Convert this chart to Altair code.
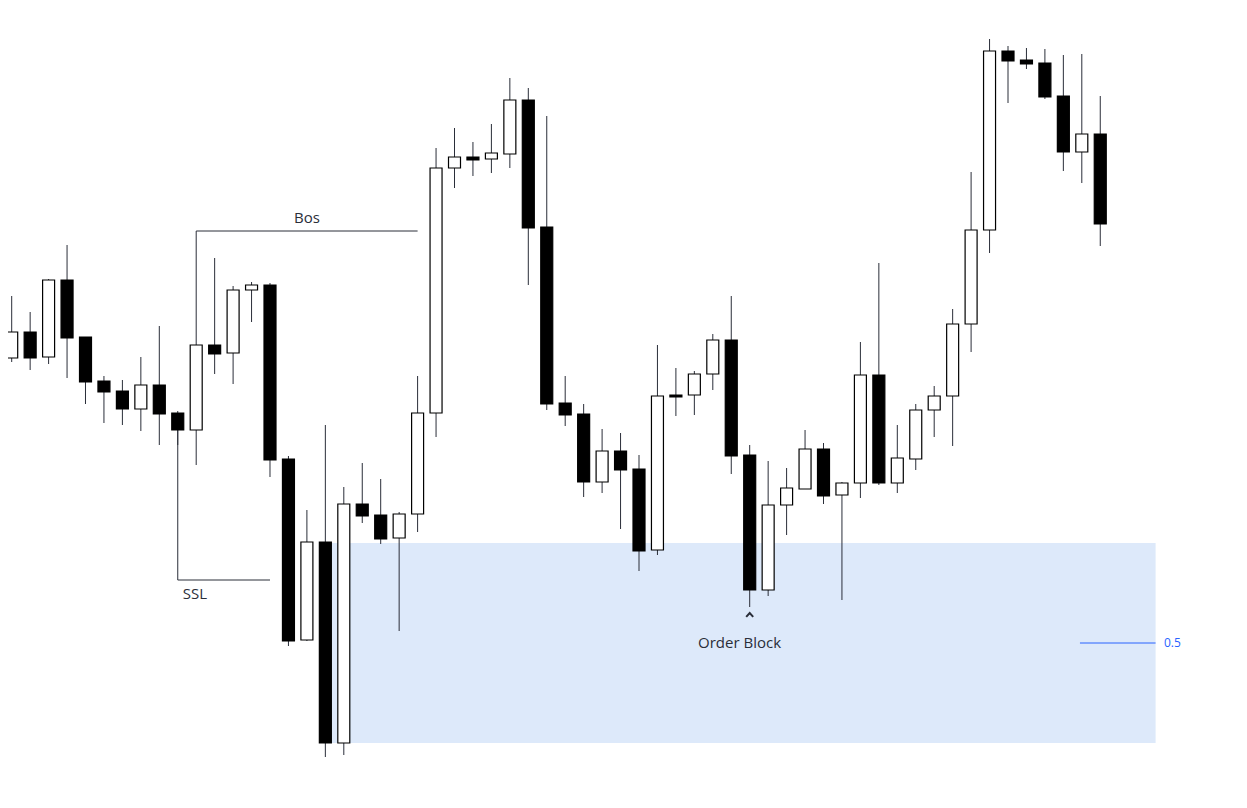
import altair as alt
import pandas as pd

# Candle OHLC (arbitrary price units)
opens  = [442,468,443,520,463,419,409,391,415,387,370,455,447,510,515,341,160,258,57,296,
          285,262,286,387,632,643,641,646,700,573,397,386,318,349,331,250,405,405,426,460,
          345,210,295,311,351,305,317,425,317,341,390,404,476,570,749,740,737,704,648,666]
highs  = [504,488,521,555,463,424,420,443,474,389,455,542,514,518,517,344,290,375,313,337,
          321,288,424,652,672,658,676,722,712,684,424,396,371,367,345,455,432,429,466,504,
          355,339,332,370,357,318,458,537,375,396,414,491,628,761,754,752,751,745,746,704]
lows   = [438,430,436,422,396,377,375,369,355,355,335,426,416,478,323,154,159,43,45,277,
          256,169,268,363,612,624,627,632,515,390,374,303,307,271,229,245,384,385,410,326,
          193,204,265,311,296,200,302,315,307,330,363,354,448,547,697,731,701,629,617,554]
closes = [468,442,520,462,418,408,391,415,386,370,455,446,510,515,340,159,258,57,296,284,
          261,286,387,632,643,640,647,700,572,396,385,318,349,330,249,404,403,426,460,344,
          210,295,312,351,304,317,425,317,342,390,404,476,570,749,739,736,703,648,666,576]

# Annotation geometry (candle index, price)
bos_x = [10, 10, 22]
bos_y = [455, 569, 569]
ssl_x = [9, 9, 14]
ssl_y = [370, 220, 220]
zone_x = [17, 62]
zone_y = [257, 57]
mid_x = [57.9, 62]
mid_y = 157

labels = ["Bos", "SSL", "Order Block"]
label_x = [16, 9.27, 39.45]
label_y = [582, 206, 157.5]
caret_x = 40
caret_y = 185

n = len(opens)
df = pd.DataFrame({
    "i": list(range(n)), "open": opens, "high": highs, "low": lows, "close": closes,
})
df["dir"] = ["up" if c > o else "down" for o, c in zip(opens, closes)]
df["x1"] = df["i"] - 0.325
df["x2"] = df["i"] + 0.325

xs = alt.Scale(domain=[-0.2005, 64.84], nice=False, zero=False)
ys = alt.Scale(domain=[12, 792], nice=False, zero=False)

zone_df = pd.DataFrame({"x": [zone_x[0]], "x2": [zone_x[1]], "y": [zone_y[0]], "y2": [zone_y[1]]})
zone = alt.Chart(zone_df).mark_rect(color="#dde9fa").encode(
    x=alt.X("x:Q", scale=xs, axis=None), x2="x2:Q",
    y=alt.Y("y:Q", scale=ys, axis=None), y2="y2:Q")

paths = pd.DataFrame({
    "x": bos_x + ssl_x, "y": bos_y + ssl_y,
    "path": ["bos"] * 3 + ["ssl"] * 3, "seq": [0, 1, 2, 0, 1, 2],
})
lines = alt.Chart(paths).mark_line(color="#2a2e39", strokeWidth=1).encode(
    x=alt.X("x:Q", scale=xs, axis=None), y=alt.Y("y:Q", scale=ys, axis=None),
    detail="path:N", order="seq:Q")

wicks = alt.Chart(df).mark_rule(color="#2a2e39", strokeWidth=1).encode(
    x=alt.X("i:Q", scale=xs, axis=None),
    y=alt.Y("low:Q", scale=ys, axis=None), y2="high:Q")

bodies = alt.Chart(df).mark_rect(stroke="#000000", strokeWidth=1.2).encode(
    x=alt.X("x1:Q", scale=xs, axis=None), x2="x2:Q",
    y=alt.Y("open:Q", scale=ys, axis=None), y2="close:Q",
    fill=alt.Fill("dir:N", scale=alt.Scale(domain=["up", "down"], range=["#ffffff", "#000000"]), legend=None))

mid_df = pd.DataFrame({"x": [mid_x[0]], "x2": [mid_x[1]], "y": [mid_y]})
mid = alt.Chart(mid_df).mark_rule(color="#2962ff", strokeWidth=1).encode(
    x=alt.X("x:Q", scale=xs, axis=None), x2="x2:Q", y=alt.Y("y:Q", scale=ys, axis=None))

mid_lbl_df = pd.DataFrame({"x": [62.45], "y": [mid_y], "t": ["0.5"]})
mid_lbl = alt.Chart(mid_lbl_df).mark_text(
    align="left", baseline="middle", font="Open Sans", fontSize=12, color="#2962ff").encode(
    x=alt.X("x:Q", scale=xs, axis=None), y=alt.Y("y:Q", scale=ys, axis=None), text="t:N")

lab_df = pd.DataFrame({"x": label_x, "y": label_y, "t": labels})
txt_ssl = alt.Chart(lab_df[lab_df["t"] == "SSL"]).mark_text(
    align="left", baseline="middle", font="Open Sans", fontSize=15, color="#2a2e39").encode(
    x=alt.X("x:Q", scale=xs, axis=None), y=alt.Y("y:Q", scale=ys, axis=None), text="t:N")
txt_center = alt.Chart(lab_df[lab_df["t"] != "SSL"]).mark_text(
    align="center", baseline="middle", font="Open Sans", fontSize=15, color="#2a2e39").encode(
    x=alt.X("x:Q", scale=xs, axis=None), y=alt.Y("y:Q", scale=ys, axis=None), text="t:N")

caret_df = pd.DataFrame({"x": [caret_x], "y": [caret_y]})
caret = alt.Chart(caret_df).mark_point(
    shape="M-1,0.55L0,-0.55L1,0.55", filled=False, size=49, strokeWidth=2,
    color="#2a2e39", opacity=1).encode(
    x=alt.X("x:Q", scale=xs, axis=None), y=alt.Y("y:Q", scale=ys, axis=None))

chart = alt.layer(zone, lines, wicks, bodies, mid, mid_lbl, txt_ssl, txt_center, caret).properties(
    width=1200, height=780, padding=0, autosize="none", background="#ffffff"
).configure_view(stroke=None)

chart.save("out.html", embed_options={"renderer": "svg", "actions": False})
